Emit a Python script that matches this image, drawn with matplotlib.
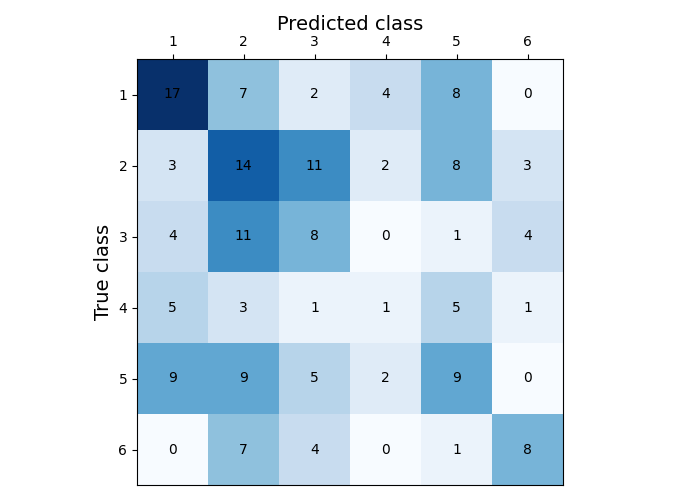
import matplotlib
matplotlib.use("Agg")
import matplotlib.pyplot as plt
import numpy as np

classes = ["1", "2", "3", "4", "5", "6"]
row1 = [17, 7, 2, 4, 8, 0]
row2 = [3, 14, 11, 2, 8, 3]
row3 = [4, 11, 8, 0, 1, 4]
row4 = [5, 3, 1, 1, 5, 1]
row5 = [9, 9, 5, 2, 9, 0]
row6 = [0, 7, 4, 0, 1, 8]

cm = np.array([row1, row2, row3, row4, row5, row6])

fig = plt.figure(figsize=(7, 5), dpi=100)
ax = fig.add_axes([137/700, 15/500, 426/700, 426/500])
ax.imshow(cm, cmap="Blues", interpolation="nearest", aspect="auto")
ax.set_xticks(range(len(classes)))
ax.set_yticks(range(len(classes)))
ax.set_xticklabels(classes)
ax.set_yticklabels(classes)
ax.xaxis.tick_top()
ax.xaxis.set_label_position("top")
ax.set_xlabel("Predicted class", fontsize=14)
ax.set_ylabel("True class", fontsize=14)
for i in range(cm.shape[0]):
    for j in range(cm.shape[1]):
        ax.text(j, i, str(cm[i, j]), ha="center", va="center", color="black", fontsize=10)
fig.savefig("out.png", dpi=100)
